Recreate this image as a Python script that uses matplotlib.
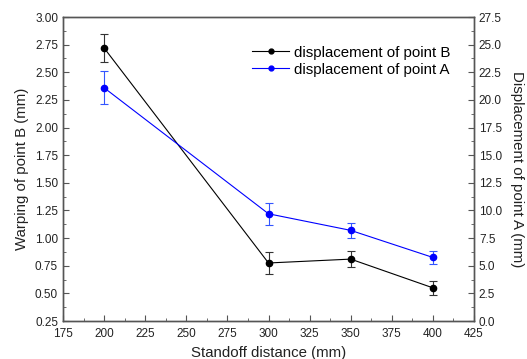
import matplotlib
matplotlib.use("Agg")
import matplotlib.pyplot as plt
from matplotlib.ticker import MultipleLocator
from matplotlib.lines import Line2D

plt.rcParams['font.family'] = ['Liberation Sans', 'DejaVu Sans']

standoff = [200, 300, 350, 400]
warp_b = [2.72, 0.775, 0.81, 0.55]
warp_b_err = [0.125, 0.10, 0.07, 0.065]
disp_a = [21.1, 9.7, 8.2, 5.75]
disp_a_err = [1.5, 1.0, 0.65, 0.57]

label_b = "displacement of point B"
label_a = "displacement of point A"

fig = plt.figure(figsize=(5.27, 3.59), dpi=100)
ax = fig.add_axes([0.1195, 0.1058, 0.78, 0.8468])
ax2 = ax.twinx()

spine_c = '#555555'
ax.errorbar(standoff, warp_b, yerr=warp_b_err, color='black', lw=0.8,
            marker='o', ms=4.5, capsize=3, elinewidth=0.8, capthick=0.8,
            ecolor='#333333')
ax2.errorbar(standoff, disp_a, yerr=disp_a_err, color='blue', lw=0.8,
             marker='o', ms=4.5, capsize=3, elinewidth=0.8, capthick=0.8,
             ecolor='#3355ff')

ax.set_xlim(175, 425)
ax.set_ylim(0.25, 3.00)
ax2.set_ylim(0.0, 27.5)
ax.xaxis.set_major_locator(MultipleLocator(25))
ax.xaxis.set_minor_locator(MultipleLocator(12.5))
ax.yaxis.set_major_locator(MultipleLocator(0.25))
ax.yaxis.set_minor_locator(MultipleLocator(0.125))
ax2.yaxis.set_major_locator(MultipleLocator(2.5))
ax2.yaxis.set_minor_locator(MultipleLocator(1.25))
ax.yaxis.set_major_formatter(matplotlib.ticker.FormatStrFormatter('%.2f'))
ax2.yaxis.set_major_formatter(matplotlib.ticker.FormatStrFormatter('%.1f'))

for a in (ax, ax2):
    for s in a.spines.values():
        s.set_color(spine_c)
        s.set_linewidth(1.0)
    a.tick_params(which='both', direction='in', colors=spine_c, labelcolor='#222222',
                  labelsize=8.5, top=False)
    a.tick_params(which='major', length=4)
    a.tick_params(which='minor', length=2)

ax.tick_params(axis='x', pad=5)
ax.tick_params(axis='y', right=False)
ax2.tick_params(axis='y', left=False)

ax.set_xlabel("Standoff distance (mm)", fontsize=10.8, color='#222222', labelpad=4)
ax.set_ylabel("Warping of point B (mm)", fontsize=10.8, color='#222222', labelpad=4)
ax2.set_ylabel("Displacement of point A (mm)", fontsize=10.8, color='#222222',
               rotation=270, labelpad=16)

handles = [Line2D([], [], color='black', lw=0.8, marker='o', ms=3.5),
           Line2D([], [], color='blue', lw=0.8, marker='o', ms=3.5)]
leg = ax.legend(handles, [label_b, label_a], loc='upper right',
                bbox_to_anchor=(0.975, 0.95), frameon=False, fontsize=10.8,
                handlelength=2.5, handletextpad=0.3, labelspacing=0.2)

fig.savefig("out.png", dpi=100)
